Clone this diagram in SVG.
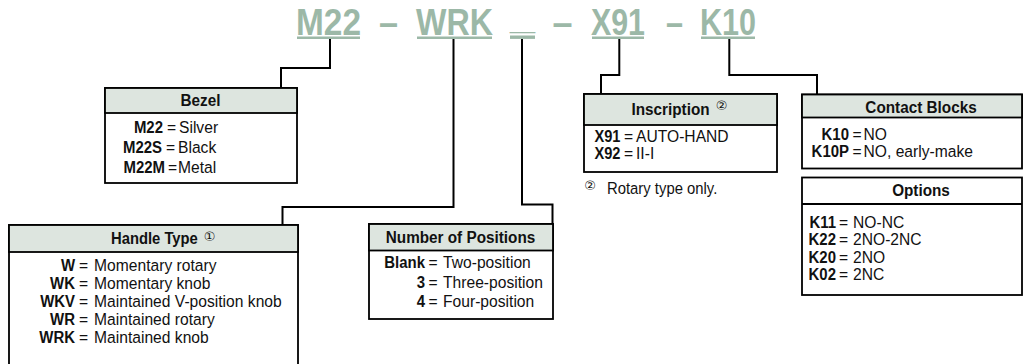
<svg xmlns="http://www.w3.org/2000/svg" width="1031" height="364" viewBox="0 0 1031 364">
<style>
.t{font-family:"Liberation Sans",Arial,sans-serif;font-size:17px;fill:#111}
.k{font-family:"Liberation Sans",Arial,sans-serif;font-size:17px;font-weight:bold;fill:#111;text-anchor:end}
.h{font-family:"Liberation Sans",Arial,sans-serif;font-weight:bold;font-size:17px;fill:#111}
.m{text-anchor:middle}
.box{fill:#fff;stroke:#000;stroke-width:1.8}
.hdr{fill:#dde5df;stroke:#000;stroke-width:1.8}
.conn{fill:none;stroke:#000;stroke-width:2}
.title{font-family:"Liberation Sans",Arial,sans-serif;font-weight:bold;font-size:37.5px;fill:#9cb8a7}
.ul{stroke:#9cb8a7;stroke-width:2.4}
.c{font-family:"DejaVu Sans","Noto Sans CJK JP",sans-serif;font-size:13px;fill:#111;text-anchor:middle}
</style>
<rect width="1031" height="364" fill="#fff"/>
<g id="title">
<text class="title" x="296" y="34.5" textLength="65" lengthAdjust="spacingAndGlyphs">M22</text>
<text class="title" x="379" y="34.5" textLength="19" lengthAdjust="spacingAndGlyphs">–</text>
<text class="title" x="416" y="34.5" textLength="77" lengthAdjust="spacingAndGlyphs">WRK</text>
<text class="title" x="510" y="30" style="font-size:28px" textLength="25" lengthAdjust="spacingAndGlyphs">_</text>
<text class="title" x="552.5" y="34.5" textLength="20" lengthAdjust="spacingAndGlyphs">–</text>
<text class="title" x="591" y="34.5" textLength="54" lengthAdjust="spacingAndGlyphs">X91</text>
<text class="title" x="666" y="34.5" textLength="17" lengthAdjust="spacingAndGlyphs">–</text>
<text class="title" x="700" y="34.5" textLength="56" lengthAdjust="spacingAndGlyphs">K10</text>
<line class="ul" x1="297" y1="37.7" x2="360" y2="37.7"/>
<line class="ul" x1="417" y1="37.7" x2="492" y2="37.7"/>
<line class="ul" x1="510" y1="37.2" x2="535" y2="37.2" style="stroke-width:3.4"/>
<line class="ul" x1="592" y1="37.7" x2="644" y2="37.7"/>
<line class="ul" x1="701" y1="37.7" x2="755" y2="37.7"/>
</g>
<g id="connectors">
<path class="conn" d="M330,39 V68 H281 V88"/>
<path class="conn" d="M453.5,39 V207 H282.5 V225"/>
<path class="conn" d="M522,39 V204.5 H552.5 V224"/>
<path class="conn" d="M619.3,39 V75 H601 V94"/>
<path class="conn" d="M729.3,39 V75 H817 V94.5"/>
</g>
<g id="bezel">
<rect class="box" x="105" y="88" width="192" height="95"/>
<rect class="hdr" x="105" y="88" width="192" height="25"/>
<text class="h m" transform="translate(200.5,105.5) scale(.9,1)">Bezel</text>
<text class="k" transform="translate(163,132.5) scale(.88,1)">M22</text><text class="t" transform="translate(167,132.5) scale(.92,1)">=</text><text class="t" transform="translate(179,132.5) scale(.92,1)">Silver</text>
<text class="k" transform="translate(162,153) scale(.88,1)">M22S</text><text class="t" transform="translate(166,153) scale(.92,1)">=</text><text class="t" transform="translate(178,153) scale(.92,1)">Black</text>
<text class="k" transform="translate(165,173) scale(.88,1)">M22M</text><text class="t" transform="translate(168,173) scale(.92,1)">=</text><text class="t" transform="translate(178,173) scale(.92,1)">Metal</text>
</g>
<g id="handle-type">
<rect class="box" x="9" y="225" width="289" height="145"/>
<rect class="hdr" x="9" y="225" width="289" height="27"/>
<text class="h" transform="translate(111,244) scale(.87,1)">Handle Type</text>
<text class="c" x="209.5" y="241">①</text>
<text class="k" transform="translate(75,271) scale(.88,1)">W</text><text class="t" transform="translate(79,271) scale(.92,1)">=</text><text class="t" transform="translate(94,271) scale(.92,1)">Momentary rotary</text>
<text class="k" transform="translate(75,289) scale(.88,1)">WK</text><text class="t" transform="translate(79,289) scale(.92,1)">=</text><text class="t" transform="translate(94,289) scale(.92,1)">Momentary knob</text>
<text class="k" transform="translate(75,307) scale(.88,1)">WKV</text><text class="t" transform="translate(79,307) scale(.92,1)">=</text><text class="t" transform="translate(94,307) scale(.92,1)">Maintained V-position knob</text>
<text class="k" transform="translate(75,325) scale(.88,1)">WR</text><text class="t" transform="translate(79,325) scale(.92,1)">=</text><text class="t" transform="translate(94,325) scale(.92,1)">Maintained rotary</text>
<text class="k" transform="translate(75,343) scale(.88,1)">WRK</text><text class="t" transform="translate(79,343) scale(.92,1)">=</text><text class="t" transform="translate(94,343) scale(.92,1)">Maintained knob</text>
</g>
<g id="positions">
<rect class="box" x="369" y="224" width="184" height="95"/>
<rect class="hdr" x="369" y="224" width="184" height="26.5"/>
<text class="h m" transform="translate(460.5,243) scale(.9,1)">Number of Positions</text>
<text class="k" transform="translate(425,268) scale(.88,1)">Blank</text><text class="t" transform="translate(428.5,268) scale(.92,1)">=</text><text class="t" transform="translate(443,268) scale(.92,1)">Two-position</text>
<text class="k" transform="translate(425,287.5) scale(.88,1)">3</text><text class="t" transform="translate(428.5,287.5) scale(.92,1)">=</text><text class="t" transform="translate(443,287.5) scale(.92,1)">Three-position</text>
<text class="k" transform="translate(425,307) scale(.88,1)">4</text><text class="t" transform="translate(428.5,307) scale(.92,1)">=</text><text class="t" transform="translate(443,307) scale(.92,1)">Four-position</text>
</g>
<g id="inscription">
<rect class="box" x="584" y="94" width="193" height="78"/>
<rect class="hdr" x="584" y="94" width="193" height="31"/>
<text class="h" transform="translate(631.5,114.5) scale(.9,1)">Inscription</text>
<text class="c" x="721.7" y="109.5">②</text>
<text class="k" transform="translate(620.5,141.5) scale(.86,1)">X91</text><text class="t" transform="translate(624,141.5) scale(.92,1)">=</text><text class="t" transform="translate(636,141.5) scale(.92,1)">AUTO-HAND</text>
<text class="k" transform="translate(620.5,158.5) scale(.86,1)">X92</text><text class="t" transform="translate(624,158.5) scale(.92,1)">=</text><text class="t" transform="translate(636,158.5) scale(.92,1)">II-I</text>
</g>
<g id="footnote">
<text class="c" x="590" y="189.5">②</text>
<text class="t" transform="translate(607,193.5) scale(.9,1)" style="font-size:16.5px">Rotary type only.</text>
</g>
<g id="contact-blocks">
<rect class="box" x="802" y="94.5" width="220" height="74"/>
<rect class="hdr" x="802" y="94.5" width="220" height="23"/>
<text class="h m" transform="translate(921,113) scale(.9,1)">Contact Blocks</text>
<text class="k" transform="translate(849,140) scale(.88,1)">K10</text><text class="t" transform="translate(852.5,140) scale(.92,1)">=</text><text class="t" transform="translate(863.5,140) scale(.92,1)">NO</text>
<text class="k" transform="translate(849,157) scale(.88,1)">K10P</text><text class="t" transform="translate(852.5,157) scale(.92,1)">=</text><text class="t" transform="translate(863.5,157) scale(.92,1)">NO, early-make</text>
</g>
<g id="options">
<rect class="box" x="802" y="177.5" width="220" height="117.5"/>
<line x1="802" y1="204" x2="1022" y2="204" stroke="#000" stroke-width="1.8"/>
<text class="h m" transform="translate(921,196) scale(.9,1)">Options</text>
<text class="k" transform="translate(836,227.5) scale(.88,1)">K11</text><text class="t" transform="translate(839,227.5) scale(.92,1)">=</text><text class="t" transform="translate(853,227.5) scale(.92,1)">NO-NC</text>
<text class="k" transform="translate(836,245) scale(.88,1)">K22</text><text class="t" transform="translate(839,245) scale(.92,1)">=</text><text class="t" transform="translate(853,245) scale(.92,1)">2NO-2NC</text>
<text class="k" transform="translate(836,262.5) scale(.88,1)">K20</text><text class="t" transform="translate(839,262.5) scale(.92,1)">=</text><text class="t" transform="translate(853,262.5) scale(.92,1)">2NO</text>
<text class="k" transform="translate(836,280) scale(.88,1)">K02</text><text class="t" transform="translate(839,280) scale(.92,1)">=</text><text class="t" transform="translate(853,280) scale(.92,1)">2NC</text>
</g>
</svg>
